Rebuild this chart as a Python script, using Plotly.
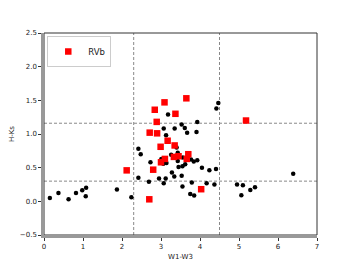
import plotly.graph_objects as go

# Non-RVb sources (black dots)
w13_other = [0.15, 0.37, 0.63, 0.82, 0.98, 1.08, 1.07, 1.87, 2.24, 2.42, 2.42, 2.48, 2.69, 2.73,
             2.95, 3.01, 3.07, 3.12, 3.07, 3.13, 3.35, 3.14, 3.40, 3.43, 3.18, 4.47, 4.42, 3.93,
             3.53, 3.61, 3.67, 3.91, 3.26, 3.06, 3.43, 3.45, 3.28, 3.34, 3.56, 3.77, 3.93, 3.84,
             3.62, 3.55, 4.05, 4.24, 4.41, 3.53, 3.79, 3.55, 4.17, 4.37, 3.75, 3.85, 4.95, 5.10,
             5.06, 5.29, 5.41, 6.39]
hks_other = [0.05, 0.125, 0.03, 0.125, 0.165, 0.20, 0.075, 0.175, 0.06, 0.35, 0.78, 0.70, 0.29, 0.58,
             0.34, 0.63, 0.27, 0.34, 1.08, 0.98, 1.08, 0.57, 0.80, 0.72, 1.29, 1.46, 1.38, 1.18,
             1.14, 1.09, 1.02, 1.03, 0.69, 0.56, 0.60, 0.51, 0.43, 0.37, 0.65, 0.62, 0.61, 0.59,
             0.55, 0.52, 0.50, 0.46, 0.48, 0.38, 0.28, 0.22, 0.27, 0.25, 0.11, 0.085, 0.25, 0.24,
             0.09, 0.17, 0.21, 0.41]

# RVb sources (red squares)
w13_rvb = [2.84, 3.09, 3.37, 2.89, 3.65, 5.18, 2.71, 2.90, 3.17, 2.99, 3.35, 3.10, 3.00, 3.33,
           3.45, 2.80, 2.12, 2.70, 3.70, 3.66, 4.03]
hks_rvb = [1.36, 1.47, 1.30, 1.18, 1.53, 1.20, 1.02, 1.01, 0.90, 0.81, 0.83, 0.63, 0.58, 0.66,
           0.67, 0.47, 0.46, 0.03, 0.70, 0.63, 0.18]

# Threshold lines
w13_cuts = [2.3, 4.5]
hks_cuts = [0.3, 1.16]

x_ticks = [0, 1, 2, 3, 4, 5, 6, 7]
y_ticks = [-0.5, 0.0, 0.5, 1.0, 1.5, 2.0, 2.5]

fig = go.Figure()
fig.add_trace(go.Scatter(x=w13_other, y=hks_other, mode="markers", showlegend=False,
                         marker=dict(color="black", size=4.5, symbol="circle", line=dict(width=0))))
fig.add_trace(go.Scatter(x=w13_rvb, y=hks_rvb, mode="markers", name="RVb",
                         marker=dict(color="#ff0000", size=6.5, symbol="square", line=dict(width=0))))

shapes = []
for xc in w13_cuts:
    shapes.append(dict(type="line", xref="x", yref="paper", x0=xc, x1=xc, y0=0, y1=1,
                       line=dict(color="#888888", width=1, dash="3px,2px"), layer="below"))
for yc in hks_cuts:
    shapes.append(dict(type="line", xref="paper", yref="y", x0=0, x1=1, y0=yc, y1=yc,
                       line=dict(color="#888888", width=1, dash="3px,2px"), layer="below"))
shapes.append(dict(type="rect", xref="paper", yref="paper", x0=0, x1=1, y0=0, y1=1,
                   line=dict(color="#333333", width=1), layer="below"))

axis_common = dict(showgrid=False, zeroline=False, showline=True, linecolor="#999999", linewidth=2.5,
                   ticks="outside", ticklen=3, tickwidth=1, tickcolor="#333333", automargin=False,
                   tickfont=dict(size=7, color="#222222", family="DejaVu Sans"))

fig.update_layout(
    width=344, height=256,
    margin=dict(l=36, r=35, t=25, b=29),
    paper_bgcolor="white", plot_bgcolor="white",
    font=dict(family="DejaVu Sans", color="#222222"),
    shapes=shapes,
    xaxis=dict(range=[0, 7], tickvals=x_ticks, ticktext=[str(v) for v in x_ticks],
               title=dict(text="W1-W3", font=dict(size=7), standoff=4), **axis_common),
    yaxis=dict(range=[-0.5, 2.5], tickvals=y_ticks,
               ticktext=[("−" if v < 0 else "") + f"{abs(v):.1f}" for v in y_ticks],
               title=dict(text="H-Ks", font=dict(size=7), standoff=6), **axis_common),
    legend=dict(x=0.012, y=0.985, xanchor="left", yanchor="top", bgcolor="white",
                bordercolor="#cccccc", borderwidth=1, font=dict(size=8.5),
                itemwidth=30, tracegroupgap=0),
)

fig.write_html("out.html")
